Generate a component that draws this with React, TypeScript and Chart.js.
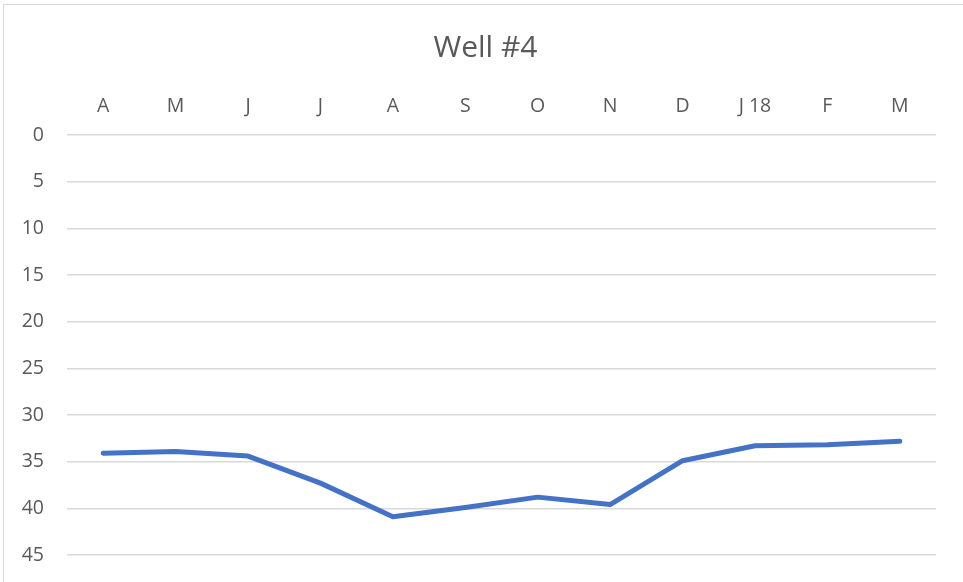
import React, { useEffect, useRef } from "react";
import { Chart, registerables } from "chart.js";

Chart.register(...registerables);

// Monthly water level readings for Well #4 (depth, shown top-down)
const chartTitle = "Well #4";
const months = ["A", "M", "J", "J", "A", "S", "O", "N", "D", "J 18", "F", "M"];
const depthValues = [34.1, 33.9, 34.4, 37.3, 40.9, 39.9, 38.8, 39.6, 34.9, 33.3, 33.2, 32.8];
const depthTicks = [0, 5, 10, 15, 20, 25, 30, 35, 40, 45];

const TEXT = "#595959";
const GRID = "#d9d9d9";
const LINE = "#4472C4";
const FONT = "'Open Sans', 'Liberation Sans', sans-serif";

// Title centred over the whole framed chart box rather than the plot area
const frameTitle = {
  id: "frameTitle",
  afterDraw(chart: any) {
    const { ctx } = chart;
    ctx.save();
    ctx.font = `normal 30px ${FONT}`;
    ctx.fillStyle = TEXT;
    ctx.textAlign = "center";
    ctx.textBaseline = "middle";
    ctx.fillText(chartTitle, chart.width / 2 + 4, 48);
    ctx.restore();
  },
};

export default function App() {
  const canvasRef = useRef<HTMLCanvasElement | null>(null);

  useEffect(() => {
    document.body.style.margin = "0";
    const canvas = canvasRef.current;
    if (!canvas) return;

    const chart = new Chart(canvas, {
      type: "line",
      data: {
        labels: months,
        datasets: [
          {
            label: "Depth",
            data: depthValues,
            borderColor: LINE,
            backgroundColor: LINE,
            borderWidth: 5,
            borderCapStyle: "round",
            borderJoinStyle: "round",
            pointRadius: 0,
            tension: 0,
          },
        ],
      },
      plugins: [frameTitle],
      options: {
        animation: false,
        responsive: false,
        maintainAspectRatio: false,
        layout: { padding: { left: 0, top: 0, right: 27, bottom: 27 } },
        plugins: {
          legend: { display: false },
          tooltip: { enabled: false },
          title: { display: false },
        },
        scales: {
          x: {
            type: "category",
            position: "top",
            offset: true,
            grid: { display: false, drawTicks: false },
            border: { display: false },
            ticks: {
              color: TEXT,
              font: { family: FONT, size: 19.5 },
              padding: 17,
              maxRotation: 0,
              autoSkip: false,
            },
            afterFit: (scale: any) => {
              scale.height = 135;
              scale.paddingLeft = 0;
              scale.paddingRight = 0;
            },
          },
          y: {
            type: "linear",
            reverse: true,
            min: 0,
            max: 45,
            afterBuildTicks: (scale: any) => {
              scale.ticks = depthTicks.map((v) => ({ value: v }));
            },
            grid: { color: GRID, lineWidth: 1.5, drawTicks: false },
            border: { display: false },
            ticks: {
              color: TEXT,
              font: { family: FONT, size: 19.5 },
              padding: 23,
            },
            afterFit: (scale: any) => {
              scale.width = 67;
              scale.paddingTop = 0;
              scale.paddingBottom = 0;
            },
          },
        },
      },
    });

    return () => chart.destroy();
  }, []);

  return (
    <div
      style={{
        position: "fixed",
        left: 0,
        top: 0,
        width: 963,
        height: 582,
        overflow: "hidden",
        background: "#ffffff",
      }}
    >
      <div
        style={{
          position: "absolute",
          left: 3,
          top: 4,
          width: 980,
          height: 600,
          border: "1px solid #d9d9d9",
          boxSizing: "border-box",
        }}
      />
      <canvas
        ref={canvasRef}
        width={963}
        height={582}
        style={{ position: "absolute", left: 0, top: 0, width: 963, height: 582 }}
      />
    </div>
  );
}
